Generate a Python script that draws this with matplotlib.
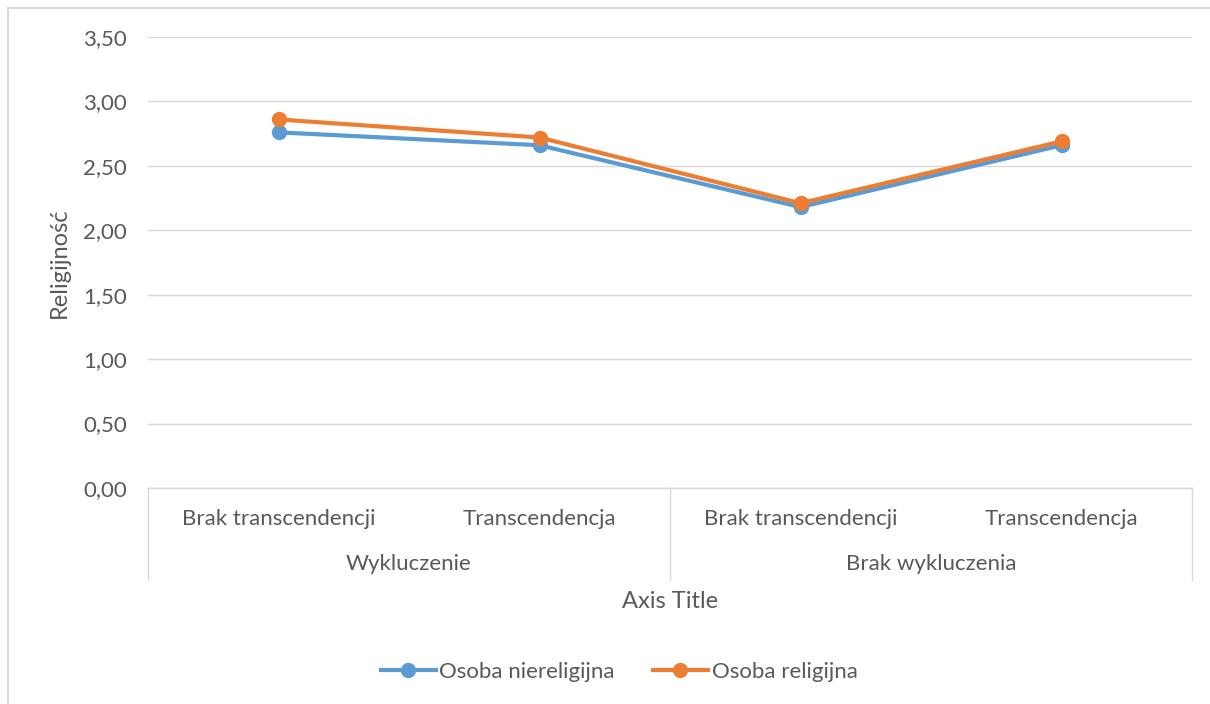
import numpy as np
import matplotlib
matplotlib.use("Agg")
import matplotlib.pyplot as plt
from matplotlib.patches import Rectangle
import matplotlib.transforms as mtransforms

# data
categories = ["Brak transcendencji", "Transcendencja", "Brak transcendencji", "Transcendencja"]
groups = ["Wykluczenie", "Brak wykluczenia"]
nonreligious = [2.76, 2.66, 2.18, 2.66]
religious = [2.86, 2.72, 2.21, 2.69]
yticks = [0.0, 0.5, 1.0, 1.5, 2.0, 2.5, 3.0, 3.5]

plt.rcParams['font.family'] = ['Lato', 'DejaVu Sans']
txt = '#595959'
grid = '#d9d9d9'

W, H = 1210, 704
fig = plt.figure(figsize=(W / 100, H / 100), dpi=100)
fig.patches.append(Rectangle((8 / W, -0.1), 1.2, 1 - 8 / H + 0.1, transform=fig.transFigure,
                             fill=False, edgecolor=grid, linewidth=1.5))

ax = fig.add_axes([148 / W, 1 - 488 / H, (1192 - 148) / W, (488 - 37) / H])
x = np.arange(len(categories))
ax.plot(x, nonreligious, color='#5b9bd5', lw=3, marker='o', ms=10, label='Osoba niereligijna', zorder=3)
ax.plot(x, religious, color='#ed7d31', lw=3, marker='o', ms=10, label='Osoba religijna', zorder=4)

ax.set_xlim(-0.5, 3.5)
ax.set_ylim(0, 3.5)
ax.set_yticks(yticks)
ax.set_yticklabels([f"{v:.2f}".replace('.', ',') for v in yticks], color=txt, fontsize=16)
ax.tick_params(axis='y', length=0, pad=15)
ax.grid(axis='y', color=grid, lw=1)
ax.set_axisbelow(True)
for s in ['top', 'right', 'left']:
    ax.spines[s].set_visible(False)
ax.spines['bottom'].set_color(grid)
ax.spines['bottom'].set_linewidth(1)

# two-level category axis
ax.set_xticks([])
trans = mtransforms.blended_transform_factory(ax.transData, ax.transAxes)
for xs in [-0.5, 1.5, 3.5]:
    ax.plot([xs, xs], [0, -92 / 451], transform=trans, color=grid, lw=1, clip_on=False)
for i, c in enumerate(categories):
    ax.text(i, -31 / 451, c, transform=trans, ha='center', va='center', color=txt, fontsize=16)
for j, g in enumerate(groups):
    ax.text(2 * j + 0.5, -76 / 451, g, transform=trans, ha='center', va='center', color=txt, fontsize=16)
ax.text(1.5, -114 / 451, "Axis Title", transform=trans, ha='center', va='center', color=txt, fontsize=17)

ax.set_ylabel("Religijność", color=txt, fontsize=17, labelpad=10)

fig.legend(loc='center', bbox_to_anchor=(619 / W, 1 - 672 / H), ncol=2, frameon=False,
           fontsize=16, labelcolor=txt, handlelength=2.5, handletextpad=0.15, columnspacing=1.7)

fig.savefig("out.png", dpi=100)
